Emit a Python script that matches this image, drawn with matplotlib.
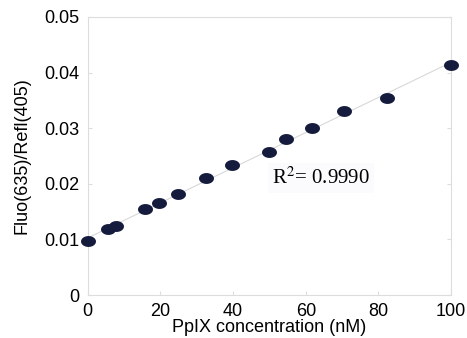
import numpy as np
import matplotlib.pyplot as plt
from matplotlib.path import Path

# PpIX concentration (nM) vs Fluo(635)/Refl(405)
conc = [0, 5.5, 7.7, 15.7, 19.6, 24.8, 32.5, 39.7, 49.9, 54.5, 61.7, 70.5, 82.4, 100]
ratio = [0.0097, 0.0118, 0.0124, 0.0154, 0.0165, 0.0181, 0.0210, 0.0233, 0.0258, 0.0280,
         0.0301, 0.0330, 0.0355, 0.0414]
r2_text = r'R$^{2}$= 0.9990'

plt.rcParams['font.family'] = ['Liberation Sans', 'DejaVu Sans']
plt.rcParams['mathtext.fontset'] = 'stix'

fig = plt.figure(figsize=(4.67, 3.38), dpi=100)
ax = fig.add_axes([0.188, 0.127, 0.778, 0.823])

# linear fit line
slope, icpt = np.polyfit(conc, ratio, 1)
xf = np.array([0, 100])
ax.plot(xf, slope * xf + icpt, color='#d8d8d8', lw=0.8, zorder=1)

# ellipse marker (wider than tall)
t = np.linspace(0, 2 * np.pi, 60)
ell = Path(np.column_stack([np.cos(t), 0.7 * np.sin(t)]), closed=True)
ax.scatter(conc, ratio, marker=ell, s=95, color='#151b3d', zorder=3, clip_on=False)

ax.set_xlim(0, 100)
ax.set_ylim(0, 0.05)
ax.set_xticks([0, 20, 40, 60, 80, 100])
ax.set_yticks([0, 0.01, 0.02, 0.03, 0.04, 0.05])
ax.set_yticklabels(['0', '0.01', '0.02', '0.03', '0.04', '0.05'])
ax.tick_params(direction='in', length=3, color='#dddddd', labelsize=13, right=True, top=False)
ax.tick_params(axis='x', pad=6)
ax.tick_params(axis='y', pad=6)
for s in ax.spines.values():
    s.set_color('#dddddd')
    s.set_linewidth(0.8)

ax.set_xlabel('PpIX concentration (nM)', fontsize=13, labelpad=-1)
ax.set_ylabel('Fluo(635)/Refl(405)', fontsize=13, labelpad=10)

ax.text(50.7, 0.021, r2_text, fontsize=15, family=['Liberation Serif', 'DejaVu Serif'],
        va='center', ha='left',
        bbox=dict(facecolor='#fbfbfd', edgecolor='none', pad=3))

plt.savefig('out.png', dpi=100)
